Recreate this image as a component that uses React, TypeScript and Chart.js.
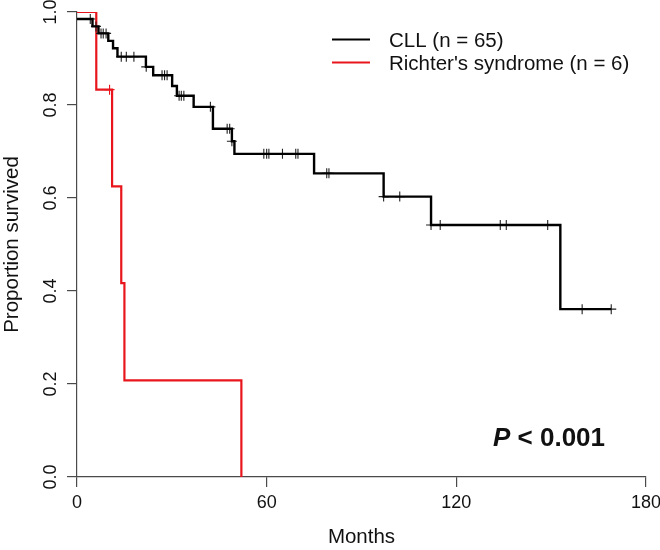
import React, { useEffect, useRef } from "react";
import { Chart, registerables } from "chart.js";

Chart.register(...registerables);

// ---- data ----
const xTickValues = [0, 60, 120, 180];
const yTickValues = [0, 0.2, 0.4, 0.6, 0.8, 1.0];
const yTickLabels = ["0.0", "0.2", "0.4", "0.6", "0.8", "1.0"];

const cllLabel = "CLL (n = 65)";
const rsLabel = "Richter's syndrome (n = 6)";
const pValueItalic = "P";
const pValueRest = " < 0.001";

// CLL step curve (time in months, survival after the step)
const cllTimes = [0, 4.9, 6.8, 9.9, 11.4, 12.8, 21.8, 24.1, 30.1, 31.6, 36.9, 43.0, 49.0, 49.8, 75.0, 97.0, 112.0, 152.9, 169.0];
const cllSurv = [0.985, 0.969, 0.954, 0.938, 0.922, 0.904, 0.882, 0.864, 0.841, 0.820, 0.796, 0.749, 0.722, 0.695, 0.653, 0.603, 0.542, 0.361, 0.361];
// CLL censor marks
const cllCensorTimes = [4.2, 6.0, 7.6, 8.3, 9.2, 14.0, 15.6, 18.0, 21.9, 26.9, 27.7, 28.5, 32.3, 33.0, 33.8, 42.2, 47.5, 48.3, 49.0, 59.1, 60.0, 60.7, 65.0, 69.2, 69.9, 79.0, 79.7, 97.0, 102.1, 112.0, 114.9, 133.9, 135.8, 148.9, 159.8, 169.0];
const cllCensorSurv = [0.985, 0.969, 0.954, 0.954, 0.954, 0.904, 0.904, 0.904, 0.882, 0.864, 0.864, 0.864, 0.820, 0.820, 0.820, 0.796, 0.749, 0.749, 0.722, 0.695, 0.695, 0.695, 0.695, 0.695, 0.695, 0.653, 0.653, 0.603, 0.603, 0.542, 0.542, 0.542, 0.542, 0.542, 0.361, 0.361];

// Richter's syndrome step curve
const rsTimes = [0, 6.1, 11.1, 14.0, 15.0, 52.0];
const rsSurv = [1.0, 0.833, 0.625, 0.417, 0.208, 0.0];
const rsCensorTimes = [10.3];
const rsCensorSurv = [0.833];

const BLACK = "#000000";
const RED = "#e8161c";
const AXIS = "#4a4a4a";
const FONT = "'Liberation Sans', Arial, Helvetica, sans-serif";

const pts = (xs: number[], ys: number[]) => xs.map((x, i) => ({ x, y: ys[i] }));

const textPlugin = {
  id: "kmText",
  afterDraw(chart: any) {
    const ctx = chart.ctx as CanvasRenderingContext2D;
    const ys = chart.scales.y;
    ctx.save();
    // rotated y tick labels (R style)
    ctx.fillStyle = "#111";
    ctx.font = `18px ${FONT}`;
    ctx.textAlign = "center";
    ctx.textBaseline = "alphabetic";
    yTickValues.forEach((v, i) => {
      const py = ys.getPixelForValue(v);
      ctx.save();
      ctx.translate(56, py);
      ctx.rotate(-Math.PI / 2);
      ctx.fillText(yTickLabels[i], 0, 0);
      ctx.restore();
    });

    // legend
    ctx.lineWidth = 2;
    ctx.strokeStyle = BLACK;
    ctx.beginPath();
    ctx.moveTo(332, 39.5);
    ctx.lineTo(370, 39.5);
    ctx.stroke();
    ctx.strokeStyle = RED;
    ctx.beginPath();
    ctx.moveTo(332, 62.5);
    ctx.lineTo(370, 62.5);
    ctx.stroke();
    ctx.fillStyle = "#111";
    ctx.font = `20.5px ${FONT}`;
    ctx.textAlign = "left";
    ctx.fillText(cllLabel, 389, 47);
    ctx.fillText(rsLabel, 389, 70);

    // p-value
    ctx.font = `italic bold 26px ${FONT}`;
    ctx.fillText(pValueItalic, 493, 446);
    const w = ctx.measureText(pValueItalic).width;
    ctx.font = `bold 26px ${FONT}`;
    ctx.fillText(pValueRest, 493 + w, 446);
    ctx.restore();
  },
};

export default function App() {
  const ref = useRef<HTMLCanvasElement | null>(null);

  useEffect(() => {
    if (!ref.current) return;
    const chart = new Chart(ref.current, {
      type: "line",
      data: {
        datasets: [
          {
            label: cllLabel,
            data: pts(cllTimes, cllSurv),
            borderColor: BLACK,
            borderWidth: 2.4,
            stepped: "before",
            pointRadius: 0,
            fill: false,
          },
          {
            label: "CLL censored",
            data: pts(cllCensorTimes, cllCensorSurv),
            showLine: false,
            pointStyle: "cross",
            pointRadius: 5,
            borderColor: "#222",
            borderWidth: 1.1,
          },
          {
            label: rsLabel,
            data: pts(rsTimes, rsSurv),
            borderColor: RED,
            borderWidth: 2.2,
            stepped: "before",
            pointRadius: 0,
            fill: false,
          },
          {
            label: "RS censored",
            data: pts(rsCensorTimes, rsCensorSurv),
            showLine: false,
            pointStyle: "cross",
            pointRadius: 5,
            borderColor: RED,
            borderWidth: 1.1,
          },
        ] as any,
      },
      options: {
        animation: false,
        responsive: false,
        maintainAspectRatio: false,
        layout: { padding: { left: 0, top: 12, right: 14, bottom: 0 } },
        plugins: { legend: { display: false }, tooltip: { enabled: false } },
        scales: {
          x: {
            type: "linear",
            min: 0,
            max: 180,
            afterBuildTicks: (s: any) => {
              s.ticks = xTickValues.map((v) => ({ value: v }));
            },
            ticks: {
              font: { family: FONT, size: 18 },
              color: "#111",
              padding: 5,
              maxRotation: 0,
              autoSkip: false,
            },
            grid: { drawOnChartArea: false, tickLength: 10, color: AXIS, lineWidth: 1.2 },
            border: { color: AXIS, width: 1.2 },
            title: {
              display: true,
              text: "Months",
              font: { family: FONT, size: 20.5 },
              color: "#111",
              padding: { top: 0, bottom: 0 },
            },
            afterFit: (s: any) => {
              s.height = 73;
              s.paddingLeft = 0;
              s.paddingRight = 0;
            },
          },
          y: {
            type: "linear",
            min: 0,
            max: 1,
            afterBuildTicks: (s: any) => {
              s.ticks = yTickValues.map((v) => ({ value: v }));
            },
            ticks: { display: false },
            grid: { drawOnChartArea: false, tickLength: 10, color: AXIS, lineWidth: 1.2 },
            border: { color: AXIS, width: 1.2 },
            title: {
              display: true,
              text: "Proportion survived",
              font: { family: FONT, size: 20.5 },
              color: "#111",
              padding: { top: 0, bottom: 0 },
            },
            afterFit: (s: any) => {
              s.width = 77;
              s.paddingTop = 0;
              s.paddingBottom = 0;
            },
          },
        },
      } as any,
      plugins: [textPlugin],
    });
    return () => chart.destroy();
  }, []);

  return (
    <div style={{ position: "fixed", left: 0, top: 0, width: 660, height: 550, background: "#fff" }}>
      <canvas ref={ref} width={660} height={550} style={{ display: "block", width: 660, height: 550 }} />
    </div>
  );
}
